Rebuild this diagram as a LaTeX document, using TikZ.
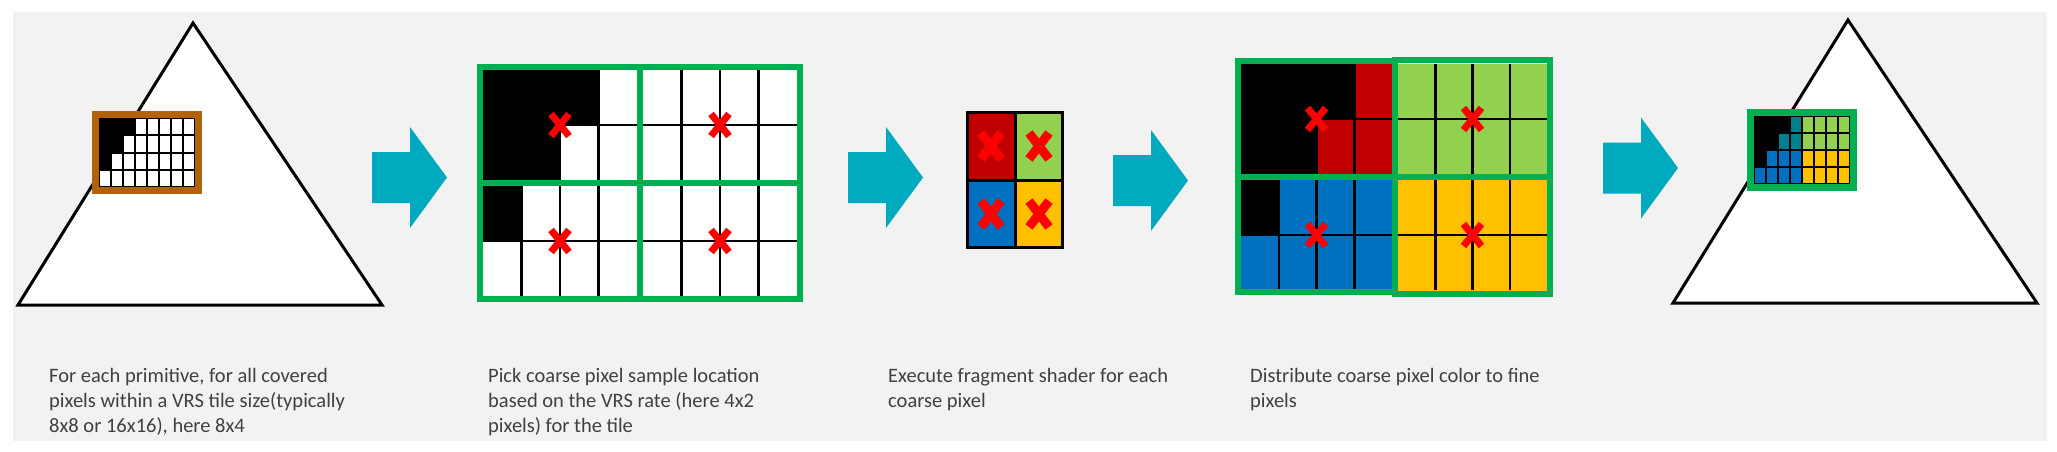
\documentclass[tikz,border=0pt]{standalone}
\usepackage{fontspec}
\setmainfont{Carlito}
\definecolor{bg}{RGB}{242,242,242}
\definecolor{vgreen}{RGB}{0,176,80}
\definecolor{lgreen}{RGB}{146,208,80}
\definecolor{dred}{RGB}{192,0,0}
\definecolor{vblue}{RGB}{0,112,192}
\definecolor{gold}{RGB}{255,192,0}
\definecolor{tealc}{RGB}{0,128,140}
\definecolor{arrowc}{RGB}{0,170,190}
\definecolor{brownc}{RGB}{180,98,10}
\definecolor{textgray}{RGB}{64,64,64}
\newcommand{\redx}[5]{%
  \begin{scope}[shift={(#1,#2)}]
    \draw[red,line width=#5pt] (-#3,-#4) -- (#3,#4);
    \draw[red,line width=#5pt] (-#3,#4) -- (#3,-#4);
  \end{scope}}
\tikzset{
  tri/.style={fill=white,draw=black,line width=3pt,line join=miter},
  gridln/.style={draw=black,line width=2.5pt},
  thinln/.style={draw=black,line width=2pt},
  frameg/.style={draw=vgreen,line width=6pt},
  txt/.style={anchor=base west,align=left,inner sep=0pt,text=textgray,
    font=\fontsize{20.5}{25}\selectfont},
  bigarrow/.pic={\fill[arrowc] (0,-25.5) -- (38,-25.5) -- (38,-50.5) -- (75,0)
     -- (38,50.5) -- (38,25.5) -- (0,25.5) -- cycle;}
}
\begin{document}
\begin{tikzpicture}[x=1pt,y=-1pt]
\useasboundingbox (0,0) rectangle (2057,452);
\fill[white] (0,0) rectangle (2057,452);
\fill[bg] (13,12) rectangle (2047,441);

% ---------- stage 1 ----------
\draw[tri] (193,23) -- (18,305) -- (382,305) -- cycle;
\fill[white] (99,118) rectangle (195,187);
\fill[black] (99,118) rectangle (135,135.25);
\fill[black] (99,135.25) rectangle (123,152.5);
\fill[black] (99,152.5) rectangle (111,169.75);
\foreach \i in {0,...,8} \draw[gridln] (99+12*\i,118) -- (99+12*\i,187);
\foreach \j in {0,...,4} \draw[thinln] (99,118+17.25*\j) -- (195,118+17.25*\j);
\draw[brownc,line width=7pt] (95.5,114.5) rectangle (198.5,190.5);

\pic at (372,177.5) {bigarrow};

% ---------- stage 2 ----------
\fill[white] (483,70) rectangle (797,296);
\fill[black] (483,70) rectangle (598.5,125);
\fill[black] (483,125) rectangle (560,180);
\fill[black] (483,186) rectangle (521.5,241);
\foreach \x in {521.5,560,598.5,681.5,720,758.5} \draw[gridln] (\x,70) -- (\x,296);
\foreach \y in {125,241} \draw[gridln] (483,\y) -- (797,\y);
\draw[frameg] (480,67) rectangle (800,299);
\draw[frameg] (640,67) -- (640,299);
\draw[frameg] (480,183) -- (800,183);
\redx{560}{125}{9}{11}{7}
\redx{720}{125}{9}{11}{7}
\redx{560}{241}{9}{11}{7}
\redx{720}{241}{9}{11}{7}

\pic at (848,177.5) {bigarrow};

% ---------- stage 3 ----------
\fill[dred] (967,112) rectangle (1015,180);
\fill[lgreen] (1015,112) rectangle (1063,180);
\fill[vblue] (967,180) rectangle (1015,248);
\fill[gold] (1015,180) rectangle (1063,248);
\draw[black,line width=3pt] (967.5,112.5) rectangle (1062.5,247.5);
\draw[black,line width=3pt] (1015,112.5) -- (1015,247.5);
\draw[black,line width=3pt] (967.5,180) -- (1062.5,180);
\redx{991}{146}{10}{13}{9}
\redx{1039}{146}{10}{13}{9}
\redx{991}{214}{10}{13}{9}
\redx{1039}{214}{10}{13}{9}

\pic at (1113,180.5) {bigarrow};

% ---------- stage 4 ----------
\fill[dred] (1241,64) rectangle (1395,177);
\fill[black] (1241,64) rectangle (1354.25,119);
\fill[black] (1241,119) rectangle (1316.5,177);
\fill[vblue] (1241,177) rectangle (1395,290);
\fill[black] (1241,180) rectangle (1278.75,235);
\fill[lgreen] (1395,64) rectangle (1547,177);
\fill[gold] (1395,177) rectangle (1547,291);
\foreach \x in {1278.75,1316.5,1354.25,1435.25,1472.5,1509.75} \draw[gridln] (\x,64) -- (\x,290);
\foreach \y in {119,235} \draw[gridln] (1241,\y) -- (1547,\y);
\draw[frameg] (1238,61) rectangle (1395,292);
\draw[frameg] (1395,60) rectangle (1550,294);
\draw[frameg] (1238,177) -- (1550,177);
\redx{1316.5}{119}{9}{11}{7}
\redx{1472.5}{119}{9}{11}{7}
\redx{1316.5}{235}{9}{11}{7}
\redx{1472.5}{235}{9}{11}{7}

\pic at (1603,168) {bigarrow};

% ---------- stage 5 ----------
\draw[tri] (1848,20) -- (1673,303) -- (2037,303) -- cycle;
\fill[tealc] (1754,116) rectangle (1802,150);
\fill[lgreen] (1802,116) rectangle (1850,150);
\fill[vblue] (1754,150) rectangle (1802,184);
\fill[gold] (1802,150) rectangle (1850,184);
\fill[black] (1754,116) rectangle (1790,133);
\fill[black] (1754,133) rectangle (1778,150);
\fill[black] (1754,150) rectangle (1766,167);
\foreach \i in {0,...,8} \draw[gridln] (1754+12*\i,116) -- (1754+12*\i,184);
\foreach \j in {0,...,4} \draw[thinln] (1754,116+17*\j) -- (1850,116+17*\j);
\draw[vgreen,line width=7pt] (1750.5,112.5) rectangle (1853.5,187.5);

% ---------- texts (anchored at the baseline of their last line) ----------
\node[txt] (t1) at (49,432) {For each primitive, for all covered\\pixels within a VRS tile size(typically\\8x8 or 16x16), here 8x4};
\node[txt] (t2) at (488,432) {Pick coarse pixel sample location\\based on the VRS rate (here 4x2\\pixels) for the tile};
\node[txt] (t3) at (888,407) {Execute fragment shader for each\\coarse pixel};
\node[txt] (t4) at (1250,407) {Distribute coarse pixel color to fine\\pixels};
\end{tikzpicture}
\end{document}
